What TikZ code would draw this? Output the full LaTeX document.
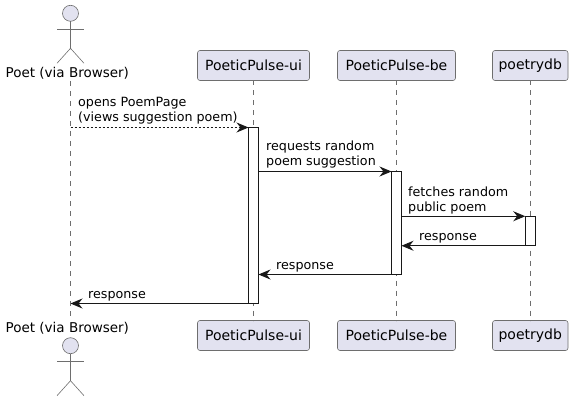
\documentclass[tikz,border=0pt]{standalone}
\usepackage{fontspec}
\setmainfont{DejaVu Sans}
\usetikzlibrary{arrows.meta}
\definecolor{boxfill}{HTML}{E2E2F0}
\definecolor{inkline}{HTML}{181818}
\definecolor{softline}{HTML}{6E6E6E}
\tikzset{
  partbox/.style={draw=softline, line width=.6pt, fill=boxfill, rounded corners=2.5pt, minimum height=30pt, inner sep=0pt, outer sep=0pt, font=\fontsize{14}{16}\selectfont},
  actorlabel/.style={inner sep=0pt, font=\fontsize{13.5}{16}\selectfont},
  actorline/.style={draw=softline, line width=.6pt},
  lifeline/.style={draw=softline, line width=.6pt, dash pattern=on 5pt off 5pt},
  activebar/.style={draw=inkline, line width=1pt, fill=white, minimum width=10pt, inner sep=0pt, outer sep=0pt},
  msglabel/.style={anchor=base west, inner sep=0pt, align=left, font=\fontsize{12.7}{15}\selectfont},
  msgline/.style={draw=inkline, line width=.9pt, -{Stealth[length=12pt,width=10pt,inset=4pt]}},
}
\begin{document}
\begin{tikzpicture}[x=1pt, y=-1pt]
\useasboundingbox (0,0) rectangle (573,401);
% top and bottom heads
\node (poetTop) [actorlabel] at (67.3,73) {Poet (via Browser)};
\node (poetBot) [actorlabel] at (67.3,328.5) {Poet (via Browser)};
\node (uiTop) [partbox, minimum width=112pt] at (253.5,65.5) {PoeticPulse-ui};
\node (uiBot) [partbox, minimum width=112pt] at (253.5,335.5) {PoeticPulse-ui};
\node (beTop) [partbox, minimum width=118pt] at (396.5,65.5) {PoeticPulse-be};
\node (beBot) [partbox, minimum width=118pt] at (396.5,335.5) {PoeticPulse-be};
\node (dbTop) [partbox, minimum width=75.5pt] at (530.25,65.5) {poetrydb};
\node (dbBot) [partbox, minimum width=75.5pt] at (530.25,335.5) {poetrydb};
% lifelines
\coordinate (poetStart) at (70.5,81);
\coordinate (poetEnd) at (70.5,316);
\draw[lifeline] (poetStart) -- (poetEnd);
\draw[lifeline] (uiTop) -- (uiBot);
\draw[lifeline] (beTop) -- (beBot);
\draw[lifeline] (dbTop) -- (dbBot);
% actor figures
\foreach \y in {13.3,345.7} {
  \draw[actorline, fill=boxfill] (70.5,\y) circle (8);
  \draw[actorline] (70.5,\y+8) -- (70.5,\y+35) (57,\y+16) -- (84,\y+16);
  \draw[actorline] (57,\y+50) -- (70.5,\y+35) -- (84,\y+50);
}
% activations
\node (uiBar) [activebar, minimum height=176pt] at (253.5,215.5) {};
\node (beBar) [activebar, minimum height=103pt] at (396.5,223) {};
\node (dbBar) [activebar, minimum height=29.5pt] at (530.25,231) {};
% messages
\coordinate (poetOpens) at (70.5,127.5);
\coordinate (poetBack) at (70.5,303.5);
\draw[msgline, dash pattern=on 2pt off 2pt] (poetOpens) -- (uiBar.north west);
\draw[msgline] (uiBar.east |- beBar.north) -- (beBar.north west);
\draw[msgline] (beBar.east |- dbBar.north) -- (dbBar.north west);
\draw[msgline] (dbBar.south west) -- (beBar.east |- dbBar.south);
\draw[msgline] (beBar.south west) -- (uiBar.east |- beBar.south);
\draw[msgline] (uiBar.south west) -- (poetBack);
\node (opensText) [msglabel] at (78,122) {opens PoemPage\\(views suggestion poem)};
\node (requestsText) [msglabel] at (266,166) {requests random\\poem suggestion};
\node (fetchesText) [msglabel] at (408,211) {fetches random\\public poem};
\node (dbReply) [msglabel] at (419,240) {response};
\node (beReply) [msglabel] at (276,269) {response};
\node (uiReply) [msglabel] at (88,298) {response};
\end{tikzpicture}
\end{document}
